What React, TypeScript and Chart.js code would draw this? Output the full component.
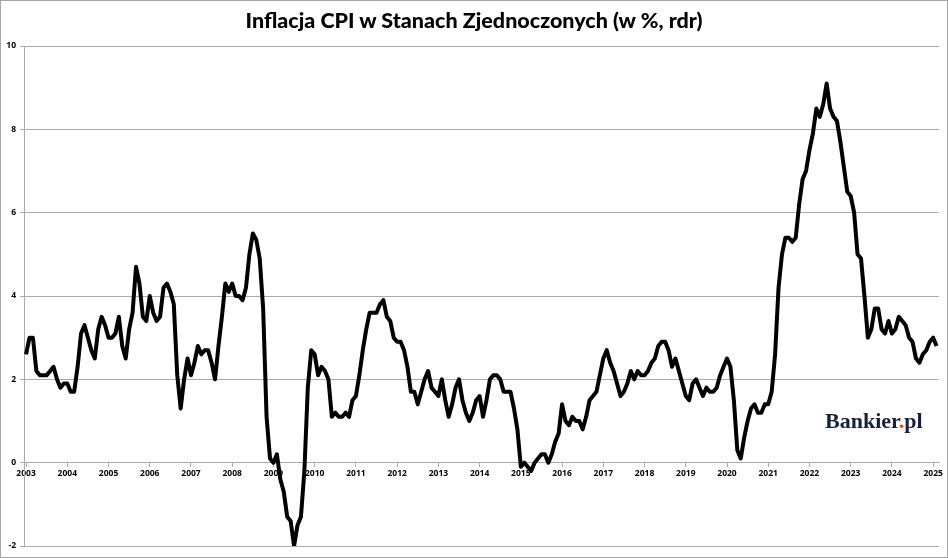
import { useEffect, useRef } from "react";
import { Chart, registerables } from "chart.js";

Chart.register(...registerables);

//  Data (CPI r/r, %, monthly, Jan 2003 – Feb 2025)

const YEAR_LABELS = [
  "2003", "2004", "2005", "2006", "2007", "2008", "2009", "2010",
  "2011", "2012", "2013", "2014", "2015", "2016", "2017", "2018",
  "2019", "2020", "2021", "2022", "2023", "2024", "2025",
];

const CPI_2003 = [2.6, 3.0, 3.0, 2.2, 2.1, 2.1, 2.1, 2.2, 2.3, 2.0, 1.8, 1.9];
const CPI_2004 = [1.9, 1.7, 1.7, 2.3, 3.1, 3.3, 3.0, 2.7, 2.5, 3.2, 3.5, 3.3];
const CPI_2005 = [3.0, 3.0, 3.1, 3.5, 2.8, 2.5, 3.2, 3.6, 4.7, 4.3, 3.5, 3.4];
const CPI_2006 = [4.0, 3.6, 3.4, 3.5, 4.2, 4.3, 4.1, 3.8, 2.1, 1.3, 2.0, 2.5];
const CPI_2007 = [2.1, 2.4, 2.8, 2.6, 2.7, 2.7, 2.4, 2.0, 2.8, 3.5, 4.3, 4.1];
const CPI_2008 = [4.3, 4.0, 4.0, 3.9, 4.2, 5.0, 5.5, 5.35, 4.9, 3.7, 1.1, 0.1];
const CPI_2009 = [0.0, 0.2, -0.4, -0.7, -1.3, -1.4, -2.0, -1.5, -1.3, -0.2, 1.8, 2.7];
const CPI_2010 = [2.6, 2.1, 2.3, 2.2, 2.0, 1.1, 1.2, 1.1, 1.1, 1.2, 1.1, 1.5];
const CPI_2011 = [1.6, 2.1, 2.7, 3.2, 3.6, 3.6, 3.6, 3.8, 3.9, 3.5, 3.4, 3.0];
const CPI_2012 = [2.9, 2.9, 2.7, 2.3, 1.7, 1.7, 1.4, 1.7, 2.0, 2.2, 1.8, 1.7];
const CPI_2013 = [1.6, 2.0, 1.5, 1.1, 1.4, 1.8, 2.0, 1.5, 1.2, 1.0, 1.2, 1.5];
const CPI_2014 = [1.6, 1.1, 1.5, 2.0, 2.1, 2.1, 2.0, 1.7, 1.7, 1.7, 1.3, 0.8];
const CPI_2015 = [-0.1, 0.0, -0.1, -0.2, 0.0, 0.1, 0.2, 0.2, 0.0, 0.2, 0.5, 0.7];
const CPI_2016 = [1.4, 1.0, 0.9, 1.1, 1.0, 1.0, 0.8, 1.1, 1.5, 1.6, 1.7, 2.1];
const CPI_2017 = [2.5, 2.7, 2.4, 2.2, 1.9, 1.6, 1.7, 1.9, 2.2, 2.0, 2.2, 2.1];
const CPI_2018 = [2.1, 2.2, 2.4, 2.5, 2.8, 2.9, 2.9, 2.7, 2.3, 2.5, 2.2, 1.9];
const CPI_2019 = [1.6, 1.5, 1.9, 2.0, 1.8, 1.6, 1.8, 1.7, 1.7, 1.8, 2.1, 2.3];
const CPI_2020 = [2.5, 2.3, 1.5, 0.3, 0.1, 0.6, 1.0, 1.3, 1.4, 1.2, 1.2, 1.4];
const CPI_2021 = [1.4, 1.7, 2.6, 4.2, 5.0, 5.4, 5.4, 5.3, 5.4, 6.2, 6.8, 7.0];
const CPI_2022 = [7.5, 7.9, 8.5, 8.3, 8.6, 9.1, 8.5, 8.3, 8.2, 7.7, 7.1, 6.5];
const CPI_2023 = [6.4, 6.0, 5.0, 4.9, 4.0, 3.0, 3.2, 3.7, 3.7, 3.2, 3.1, 3.4];
const CPI_2024 = [3.1, 3.2, 3.5, 3.4, 3.3, 3.0, 2.9, 2.5, 2.4, 2.6, 2.7, 2.9];
const CPI_2025 = [3.0, 2.8];

const CPI_YOY = [
  ...CPI_2003, ...CPI_2004, ...CPI_2005, ...CPI_2006, ...CPI_2007,
  ...CPI_2008, ...CPI_2009, ...CPI_2010, ...CPI_2011, ...CPI_2012,
  ...CPI_2013, ...CPI_2014, ...CPI_2015, ...CPI_2016, ...CPI_2017,
  ...CPI_2018, ...CPI_2019, ...CPI_2020, ...CPI_2021, ...CPI_2022,
  ...CPI_2023, ...CPI_2024, ...CPI_2025,
];

const Y_TICKS = [-2, 0, 2, 4, 6, 8, 10];

const TITLE = "Inflacja CPI w Stanach Zjednoczonych (w %, rdr)";

const GRID = "#ababab";
const TICK_FONT = { family: "'Open Sans'", size: 8.5, weight: "bold" as const };

//  Component

export default function App() {
  const canvasRef = useRef<HTMLCanvasElement>(null);

  useEffect(() => {
    if (!canvasRef.current) return;

    const chart = new Chart(canvasRef.current, {
      type: "line",
      data: {
        datasets: [
          {
            label: "CPI r/r",
            data: CPI_YOY.map((v, i) => ({ x: i, y: v })),
            borderColor: "#000000",
            borderWidth: 4,
            borderJoinStyle: "round",
            pointRadius: 0,
            tension: 0,
            fill: false,
          },
        ],
      },
      options: {
        responsive: false,
        animation: false,
        layout: { padding: { top: 46, right: 9, bottom: 12, left: 0 } },
        plugins: {
          legend: { display: false },
          tooltip: { enabled: false },
        },
        scales: {
          x: {
            type: "linear",
            position: { y: 0 },
            min: -0.6,
            max: 265.7,
            afterBuildTicks: (scale) => {
              scale.ticks = YEAR_LABELS.map((_, i) => ({ value: i * 12 }));
            },
            grid: {
              drawOnChartArea: false,
              drawTicks: true,
              tickLength: 4,
              color: GRID,
            },
            border: { display: true, color: GRID },
            ticks: {
              color: "#000",
              font: TICK_FONT,
              padding: 2,
              maxRotation: 0,
              autoSkip: false,
              callback: (v) => YEAR_LABELS[Math.round(Number(v) / 12)] ?? "",
            },
          },
          y: {
            min: -2,
            max: 10,
            afterBuildTicks: (scale) => {
              scale.ticks = Y_TICKS.map((v) => ({ value: v }));
            },
            afterFit: (scale) => {
              scale.width = 24;
            },
            grid: { color: GRID, tickLength: 4 },
            border: { display: true, color: GRID },
            ticks: {
              color: "#000",
              font: TICK_FONT,
              padding: 4,
              callback: (v) => String(v),
            },
          },
        },
      },
    });

    return () => chart.destroy();
  }, []);

  return (
    <div
      style={{
        position: "fixed",
        left: 0,
        top: 0,
        width: 948,
        height: 558,
        background: "#fff",
      }}
    >
      <canvas
        ref={canvasRef}
        width={948}
        height={558}
        style={{ position: "absolute", left: 0, top: 0 }}
      />

      {/* Title */}
      <div
        style={{
          position: "absolute",
          left: 0,
          top: 10,
          width: 948,
          textAlign: "center",
          fontFamily: "Lato, sans-serif",
          fontWeight: 900,
          fontSize: 21.5,
          lineHeight: "21px",
          color: "#000",
        }}
      >
        {TITLE}
      </div>

      {/* Logo */}
      <div
        style={{
          position: "absolute",
          left: 825,
          top: 410,
          fontFamily: "'Liberation Serif', serif",
          fontWeight: 700,
          fontSize: 22,
          lineHeight: "22px",
          color: "#16213f",
          whiteSpace: "nowrap",
        }}
      >
        Bankier<span style={{ color: "#e8491d" }}>.</span>pl
      </div>

      {/* Outer frame */}
      <div
        style={{
          position: "absolute",
          inset: 0,
          border: "1px solid #a6a6a6",
          boxSizing: "border-box",
          pointerEvents: "none",
        }}
      />
    </div>
  );
}
